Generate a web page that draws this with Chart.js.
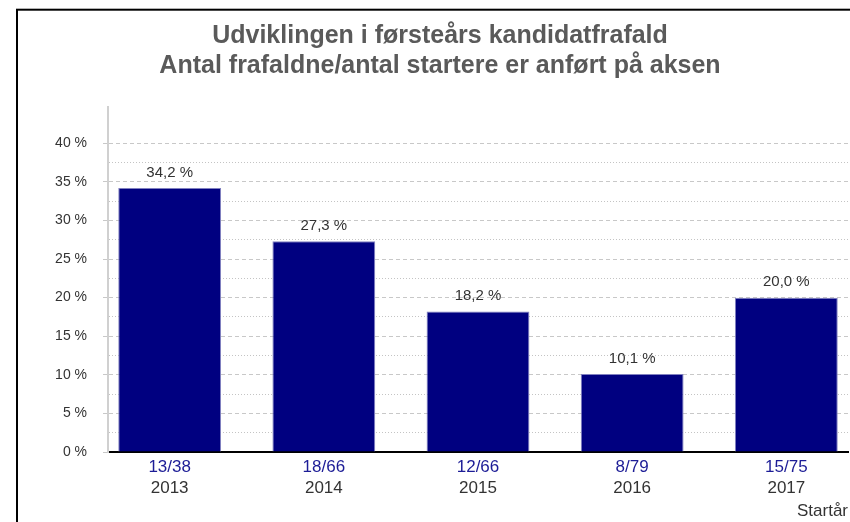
<!DOCTYPE html>
<html>
<head>
<meta charset="utf-8">
<script src="https://cdn.jsdelivr.net/npm/chart.js@4.4.1/dist/chart.umd.min.js"></script>
<style>
  body { margin: 0; background: #fff; }
  canvas { display: block; }
</style>
</head>
<body>
<canvas id="myChart" width="850" height="522"></canvas>
<script>
// data
var startYears = ["2013", "2014", "2015", "2016", "2017"];
var dropouts = ["13/38", "18/66", "12/66", "8/79", "15/75"];
var dropoutPct = [34.2, 27.3, 18.2, 10.1, 20.0];
var yTicks = [0, 2.5, 5, 7.5, 10, 12.5, 15, 17.5, 20, 22.5, 25, 27.5, 30, 32.5, 35, 37.5, 40];

var titleLines = ["Udviklingen i førsteårs kandidatfrafald", "Antal frafaldne/antal startere er anført på aksen"];

function pct(v) {
    return v.toFixed(1).replace(".", ",") + " %";
}

function isMajor(v) {
    return v % 5 === 0;
}

// black frame round the chart
var framePlugin = {
    id: "frame",
    beforeDraw: function(chart) {
        var ctx = chart.ctx;
        ctx.save();
        ctx.fillStyle = "#fff";
        ctx.fillRect(0, 0, chart.width, chart.height);
        ctx.strokeStyle = "#000";
        ctx.lineWidth = 2;
        ctx.strokeRect(17, 9.7, 860, 560);
        ctx.restore();
    }
};

// value labels above the bars
var valueLabels = {
    id: "valueLabels",
    afterDatasetsDraw: function(chart) {
        var ctx = chart.ctx;
        var meta = chart.getDatasetMeta(0);
        ctx.save();
        ctx.font = "15px 'Liberation Sans', Arial, sans-serif";
        ctx.fillStyle = "#333";
        ctx.textAlign = "center";
        ctx.textBaseline = "middle";
        meta.data.forEach(function(bar, i) {
            ctx.fillText(pct(dropoutPct[i]), bar.x, bar.y - 15.5);
        });
        ctx.restore();
    }
};

var ctx = document.getElementById("myChart").getContext("2d");

var myChart = new Chart(ctx, {
    type: "bar",
    data: {
        datasets: [{
            data: dropoutPct.map(function(v, i) { return {x: i, y: v}; }),
            backgroundColor: "#000080",
            borderColor: "#8080c0",
            borderWidth: 1,
            borderSkipped: "bottom",
            barPercentage: 0.667,
            categoryPercentage: 1
        }]
    },
    options: {
        responsive: false,
        animation: false,
        layout: {
            padding: {left: 32, right: 2, top: 0, bottom: 0}
        },
        plugins: {
            legend: { display: false },
            tooltip: { enabled: false },
            title: {
                display: true,
                text: titleLines,
                color: "#5a5a5a",
                font: { family: "'Liberation Sans', Arial, sans-serif", size: 25, weight: "bold", lineHeight: 1.2 },
                padding: { top: 21, bottom: 26 }
            }
        },
        scales: {
            x: {
                type: "linear",
                position: "bottom",
                offset: false,
                min: -0.4,
                max: 4.4,
                afterBuildTicks: function(scale) {
                    scale.ticks = startYears.map(function(y, i) { return {value: i}; });
                },
                afterFit: function(scale) { scale.height = 24; },
                grid: { display: false, drawTicks: false },
                border: { display: true, color: "#000", width: 2 },
                ticks: {
                    padding: 5,
                    autoSkip: false,
                    maxRotation: 0,
                    color: "#1c1c96",
                    font: { family: "'Liberation Sans', Arial, sans-serif", size: 17 },
                    callback: function(value) { return dropouts[value]; }
                }
            },
            x2: {
                type: "linear",
                position: "bottom",
                offset: false,
                min: -0.4,
                max: 4.4,
                afterBuildTicks: function(scale) {
                    scale.ticks = startYears.map(function(y, i) { return {value: i}; });
                },
                afterFit: function(scale) { scale.height = 46; },
                grid: { display: false, drawTicks: false },
                border: { display: false },
                ticks: {
                    padding: 2,
                    autoSkip: false,
                    maxRotation: 0,
                    color: "#333",
                    font: { family: "'Liberation Sans', Arial, sans-serif", size: 17 },
                    callback: function(value) { return startYears[value]; }
                },
                title: {
                    display: true,
                    text: "Startår",
                    align: "end",
                    color: "#333",
                    font: { family: "'Liberation Sans', Arial, sans-serif", size: 17 },
                    padding: { top: 0, bottom: 0 }
                }
            },
            y: {
                min: 0,
                max: 44.7,
                afterBuildTicks: function(scale) {
                    scale.ticks = yTicks.map(function(v) { return {value: v}; });
                },
                afterFit: function(scale) { scale.width = 76; },
                grid: {
                    color: function(c) {
                        if (!c.tick) return "#c8c8c8";
                        if (c.tick.value === 0) return "rgba(0,0,0,0)";
                        return isMajor(c.tick.value) ? "#c8c8c8" : "#c4c4c4";
                    },
                    lineWidth: 1,
                    tickLength: 5,
                    tickColor: function(c) {
                        if (!c.tick) return "#c8c8c8";
                        return isMajor(c.tick.value) ? "#c8c8c8" : "rgba(0,0,0,0)";
                    }
                },
                border: {
                    display: true,
                    color: "#d0d0d0",
                    width: 2,
                    dash: function(c) {
                        if (!c.tick) return [];
                        return isMajor(c.tick.value) ? [4, 3] : [1, 2];
                    }
                },
                ticks: {
                    padding: 16,
                    autoSkip: false,
                    color: "#333",
                    font: { family: "'Liberation Sans', Arial, sans-serif", size: 14 },
                    callback: function(value) {
                        return isMajor(value) ? value + " %" : "";
                    }
                }
            }
        }
    },
    plugins: [framePlugin, valueLabels]
});
</script>
</body>
</html>
